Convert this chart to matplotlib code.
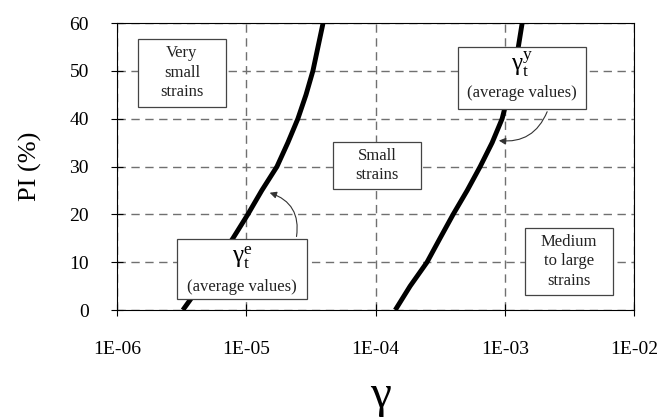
import numpy as np
import matplotlib
matplotlib.use("Agg")
import matplotlib.pyplot as plt
from matplotlib.patches import Rectangle

plt.rcParams['font.family'] = ['Liberation Serif', 'DejaVu Serif']
plt.rcParams['mathtext.fontset'] = 'stix'

# threshold curves (PI in %, gamma)
pi_vals = [0, 5, 10, 15, 20, 25, 30, 35, 40, 45, 50, 55, 60]
gamma_e = [3.24e-6, 4.39e-6, 5.94e-6, 7.9e-6, 1.03e-5, 1.32e-5, 1.73e-5,
           2.10e-5, 2.51e-5, 2.90e-5, 3.28e-5, 3.59e-5, 3.93e-5]
gamma_y = [1.42e-4, 1.85e-4, 2.50e-4, 3.15e-4, 3.98e-4, 5.11e-4, 6.44e-4,
           7.97e-4, 9.52e-4, 1.06e-3, 1.18e-3, 1.27e-3, 1.36e-3]

xticks = [1e-6, 1e-5, 1e-4, 1e-3, 1e-2]
xticklabels = ['1E-06', '1E-05', '1E-04', '1E-03', '1E-02']
yticks = [0, 10, 20, 30, 40, 50, 60]

fig = plt.figure(figsize=(6.6, 4.19), dpi=100)
ax = fig.add_axes([0.177, 0.26, 0.784, 0.685])

for g in (gamma_e, gamma_y):
    ax.plot(g, pi_vals, color='black', lw=3.5, solid_capstyle='butt',
            solid_joinstyle='round', zorder=3)

ax.set_xscale('log')
ax.set_xlim(1e-6, 1e-2)
ax.set_ylim(0, 60)
ax.set_xticks(xticks)
ax.set_xticklabels(xticklabels)
ax.minorticks_off()
ax.set_yticks(yticks)
ax.tick_params(direction='inout', length=8, width=0.8, labelsize=14)
ax.tick_params(axis='x', pad=18)
ax.tick_params(axis='y', pad=16)
ax.grid(True, color='#707070', ls=(0, (6, 4)), lw=1.0)
for s in ax.spines.values():
    s.set_linewidth(0.8)

ax.set_ylabel('PI (%)', fontsize=19, labelpad=20)
ax.set_xlabel('γ', fontsize=34)
ax.xaxis.set_label_coords(0.51, -0.225)


def box(x0, x1, y0, y1):
    ax.add_patch(Rectangle((x0, y0), x1 - x0, y1 - y0,
                           fc='white', ec='#444444', lw=0.9, zorder=5))


txt = dict(ha='center', va='center', fontsize=12, linespacing=1.3,
           color='#222222', zorder=6)

box(1.45e-6, 6.97e-6, 42.4, 56.7)
ax.text(3.18e-6, 49.6, 'Very\nsmall\nstrains', **txt)

box(4.69e-5, 2.25e-4, 25.3, 35.1)
ax.text(1.03e-4, 30.2, 'Small\nstrains', **txt)

box(1.435e-3, 6.88e-3, 3.1, 17.1)
ax.text(3.14e-3, 10.2, 'Medium\nto large\nstrains', **txt)

box(4.35e-4, 4.25e-3, 42.0, 55.0)
ax.text(1.36e-3, 51.3, r'$\mathregular{γ_t^y}$', ha='center', va='center',
        fontsize=18, zorder=6)
ax.text(1.36e-3, 45.4, '(average values)', ha='center', va='center',
        fontsize=12, color='#222222', zorder=6)

box(2.91e-6, 2.95e-5, 2.3, 14.8)
ax.text(9.27e-6, 11.0, r'$\mathregular{γ_t^e}$', ha='center', va='center',
        fontsize=18, zorder=6)
ax.text(9.27e-6, 4.8, '(average values)', ha='center', va='center',
        fontsize=12, color='#222222', zorder=6)

# arrows
ax.annotate('', xy=(1.45e-5, 24.7), xytext=(2.43e-5, 14.8),
            arrowprops=dict(arrowstyle='-|>', color='#333333', lw=0.8,
                            connectionstyle='arc3,rad=0.45'), zorder=6)
ax.annotate('', xy=(8.55e-4, 35.5), xytext=(2.16e-3, 42.0),
            arrowprops=dict(arrowstyle='-|>', color='#333333', lw=0.8,
                            connectionstyle='arc3,rad=-0.4'), zorder=6)

fig.savefig('out.png', dpi=100)
